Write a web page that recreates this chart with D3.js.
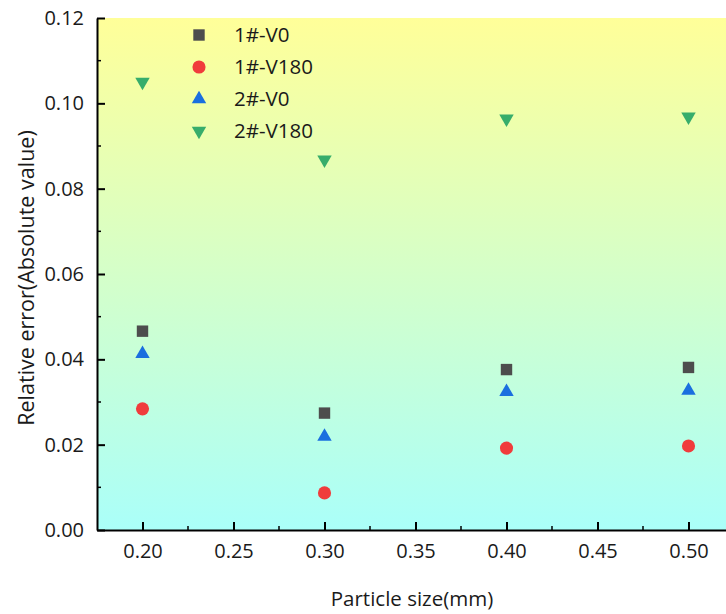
<!DOCTYPE html>
<html>
<head>
<meta charset="utf-8">
<script src="https://cdn.jsdelivr.net/npm/d3@7"></script>
<style>
  body { margin: 0; background: #fff; }
  text { font-family: "Open Sans", "Noto Sans", sans-serif; fill: #1a1a1a; }
</style>
</head>
<body>
<svg id="chart" width="726" height="614"></svg>
<script>
const sizes = [0.20, 0.30, 0.40, 0.50];
const v1_0 = [0.0466, 0.0274, 0.0376, 0.0381];
const v1_180 = [0.0284, 0.0087, 0.0192, 0.0197];
const v2_0 = [0.0413, 0.0219, 0.0324, 0.0327];
const v2_180 = [0.1050, 0.0868, 0.0964, 0.0969];
const seriesNames = ["1#-V0", "1#-V180", "2#-V0", "2#-V180"];
const xTicks = [0.20, 0.25, 0.30, 0.35, 0.40, 0.45, 0.50];
const yTicks = [0.00, 0.02, 0.04, 0.06, 0.08, 0.10, 0.12];

const svg = d3.select("#chart");
const margin = {left: 97, top: 18, bottom: 84};
const height = 614;

const x = d3.scaleLinear().domain([0.175, 0.525]).range([margin.left, margin.left + 637]);
const y = d3.scaleLinear().domain([0, 0.12]).range([height - margin.bottom, margin.top]);

const grad = svg.append("defs").append("linearGradient")
    .attr("id", "bg").attr("x1", 0).attr("y1", 0).attr("x2", 0).attr("y2", 1);
grad.append("stop").attr("offset", "0%").attr("stop-color", "#ffff99");
grad.append("stop").attr("offset", "100%").attr("stop-color", "#aafff9");

svg.append("rect")
    .attr("x", x.range()[0]).attr("y", y(0.12))
    .attr("width", x.range()[1] - x.range()[0])
    .attr("height", y(0) - y(0.12))
    .attr("fill", "url(#bg)");

// minor ticks
const g = svg.append("g");
d3.range(0.01, 0.12, 0.02).forEach(v => {
    g.append("line").attr("x1", x.range()[0]).attr("x2", x.range()[0] + 4)
        .attr("y1", y(v)).attr("y2", y(v)).attr("stroke", "#000").attr("stroke-width", 1.5);
});
d3.range(0.225, 0.52, 0.05).forEach(v => {
    g.append("line").attr("x1", x(v)).attr("x2", x(v))
        .attr("y1", y(0)).attr("y2", y(0) - 4).attr("stroke", "#000").attr("stroke-width", 1.5);
});

const yAxis = svg.append("g")
    .attr("transform", `translate(${x.range()[0]},0)`)
    .call(d3.axisLeft(y).tickValues(yTicks).tickFormat(d3.format(".2f")).tickSizeInner(-8).tickSizeOuter(0).tickPadding(13));
const xAxis = svg.append("g")
    .attr("transform", `translate(0,${y(0)})`)
    .call(d3.axisBottom(x).tickValues(xTicks).tickFormat(d3.format(".2f")).tickSizeInner(-8).tickSizeOuter(0).tickPadding(14));

[yAxis, xAxis].forEach(a => {
    a.select(".domain").attr("stroke", "#000").attr("stroke-width", 2);
    a.selectAll(".tick line").attr("stroke", "#000").attr("stroke-width", 2);
    a.selectAll(".tick text").style("font-size", "20px").attr("fill", "#1a1a1a");
});

svg.append("text")
    .attr("transform", `translate(26,${(y(0) + y(0.12)) / 2 + 4}) rotate(-90)`)
    .attr("text-anchor", "middle").attr("dy", "0.35em")
    .style("font-size", "21.5px")
    .text("Relative error(Absolute value)");

svg.append("text")
    .attr("x", 412).attr("y", 606)
    .attr("text-anchor", "middle")
    .style("font-size", "20.5px")
    .text("Particle size(mm)");

const styles = [
    {data: v1_0, shape: d3.symbolSquare, size: 130, color: "#4d4d4d", rot: 0},
    {data: v1_180, shape: d3.symbolCircle, size: 135, color: "#f03c3c", rot: 0},
    {data: v2_0, shape: d3.symbolTriangle, size: 90, color: "#1a6fdf", rot: 0},
    {data: v2_180, shape: d3.symbolTriangle, size: 90, color: "#37ad6b", rot: 180}
];

styles.forEach((s, i) => {
    svg.append("g").selectAll("path")
        .data(sizes.map((d, j) => [d, s.data[j]]))
        .join("path")
        .attr("d", d3.symbol().type(s.shape).size(s.size))
        .attr("transform", d => `translate(${x(d[0])},${y(d[1])}) rotate(${s.rot})`)
        .attr("fill", s.color);

    const ly = 35 + i * 32;
    svg.append("path")
        .attr("d", d3.symbol().type(s.shape).size(s.size))
        .attr("transform", `translate(199,${ly}) rotate(${s.rot})`)
        .attr("fill", s.color);
    svg.append("text")
        .attr("x", 234).attr("y", ly).attr("dy", "0.35em")
        .style("font-size", "20.5px")
        .text(seriesNames[i]);
});
</script>
</body>
</html>
